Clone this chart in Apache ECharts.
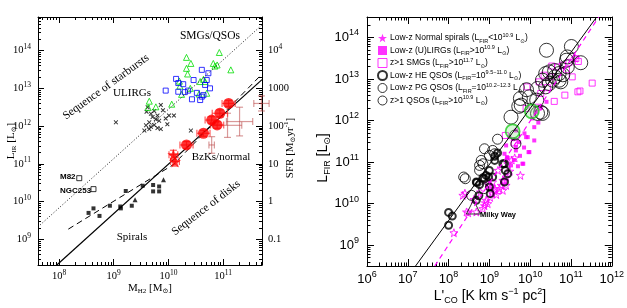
<!DOCTYPE html>
<html><head><meta charset="utf-8">
<script src="https://cdn.jsdelivr.net/npm/echarts@6/dist/echarts.min.js"></script>
<style>html,body{margin:0;padding:0;background:#fff}#c{width:627px;height:308px}</style>
</head><body><div id="c"></div>
<script>
// ===== values are log10 of the plotted quantities =====
// ---- left panel: L_IR vs M_H2 ----
const leftTickMH2 = [8, 9, 10, 11];
const leftTickLIR = [9, 10, 11, 12, 13, 14];
const sfrTickLabels = ['0.1', '1', '10', '100', '1000', '10^4'];
const ulirgCrosses = [[9.04,12.10],[9.62,12.50],[9.86,12.56],[9.60,12.38],[9.68,12.33],[9.74,12.40],[9.80,12.28],[9.71,12.24],[9.77,12.18],[9.83,12.14],[9.65,12.10],[9.59,12.02],[9.68,11.98],[9.74,12.03],[9.80,11.95],[9.86,11.92],[9.65,11.92],[9.56,11.88],[9.95,12.20],[10.01,12.28],[10.10,12.28],[9.98,12.05],[9.90,12.42],[10.41,11.88]];
const smgTriangles = [[10.33,13.82],[10.41,13.66],[10.33,13.53],[10.35,13.38],[10.20,13.19],[10.21,13.06],[10.24,12.84],[10.40,13.00],[10.58,13.18],[10.67,13.18],[10.70,12.87],[10.82,13.66],[10.85,13.59],[10.89,13.62],[10.93,13.95],[11.14,13.49],[9.65,12.66],[9.63,12.49],[9.77,12.51],[10.06,12.58],[10.56,12.85],[10.64,13.24]];
const qsoSquares = [[10.61,13.49],[10.73,13.40],[10.46,13.22],[10.14,13.25],[9.95,12.94],[10.18,12.91],[10.36,12.94],[10.52,12.88],[10.64,12.82],[10.76,13.00],[10.43,12.71],[10.58,12.69],[10.61,12.78],[10.27,13.11],[10.18,13.14],[10.67,13.09],[10.30,12.90],[10.70,13.22]];
const nearbyStarbursts = [[8.37,10.62],[8.63,10.33]]; // M82, NGC253
const spiralSquares = [[8.54,9.70],[8.63,9.82],[8.74,9.62],[8.93,9.89],[9.12,9.87],[9.13,9.82],[9.22,10.28],[9.33,9.89],[9.53,10.42],[9.72,10.44],[9.72,10.27],[9.83,10.40],[9.83,10.27]];
const spiralTriangles = [[9.39,10.05],[9.91,10.58]];
// [logM, logL, errM, errL]
const bzkCircles = [[11.10,12.60,0.12,0.08],[10.94,12.34,0.14,0.09],[10.79,12.16,0.12,0.09],[10.89,12.03,0.12,0.09],[10.64,11.81,0.12,0.08],[10.33,11.50,0.12,0.09]];
const bzkStars = [[10.09,11.24,0.08,0.12],[10.12,11.06,0.08,0.12]];
const faintBzk = [[11.08,12.02,0.26,0.32],[11.30,12.12,0.24,0.38],[10.79,11.50,0.05,0.22],[11.70,12.60,0.14,0.2]];
const lineDisks = [[7.96,8.32],[11.71,13.23]];
const lineDisksFit = [[8.17,9.27],[10.09,10.98],[11.71,13.38]];
const lineStarbursts = [[7.616,9.33],[11.71,14.68]];

// ---- right panel: L_FIR vs L'_CO ----
const rightTickLCO = [6, 7, 8, 9, 10, 11, 12];
const rightTickLFIR = [9, 10, 11, 12, 13, 14];
const normalSpirals = [[8.13,9.30],[8.35,10.20],[8.44,9.80],[8.48,9.78],[8.68,9.80],[8.84,9.88],[8.88,9.95],[8.92,10.08],[8.96,10.00],[8.96,10.48],[9.00,10.44],[9.05,10.40],[9.13,10.36],[9.17,10.22],[9.25,10.36],[9.13,10.30],[9.21,10.80],[9.33,10.56],[9.37,10.56],[9.41,10.64],[9.45,10.96],[9.76,10.68],[9.08,10.52],[9.29,10.44],[9.33,10.32],[9.41,10.44],[9.08,10.24],[8.62,10.10],[8.78,10.28],[8.90,10.02],[9.02,10.15],[8.40,10.25],[9.55,11.05],[9.62,11.10],[9.50,10.78],[11.10,13.50]];
const lowzULIRGs = [[9.86,11.69],[9.94,11.60],[9.73,11.48],[9.65,11.28],[9.98,11.24],[9.81,10.96],[9.53,10.92],[10.10,11.84],[10.10,11.52],[9.49,11.60],[9.65,11.76],[9.37,11.20],[9.41,11.40],[9.90,11.60],[9.65,11.36],[9.96,11.24],[9.45,11.10],[9.60,11.05],[9.75,11.15],[9.43,11.12],[9.83,10.96],[9.58,11.55],[9.85,11.35],[9.70,10.90],[10.20,11.95],[10.26,12.30],[10.40,12.45],[10.15,12.20],[10.05,12.05]];
const highzSMGs = [[9.92,12.81],[10.53,13.31],[10.67,13.29],[10.79,13.33],[10.89,13.22],[11.12,13.49],[11.18,13.42],[11.17,12.69],[10.85,12.61],[10.59,12.46],[11.03,13.05],[10.51,13.05],[10.34,13.09],[10.26,12.65],[11.22,12.71],[11.52,12.90],[10.20,12.32],[9.90,12.29],[9.39,11.64],[9.61,11.46],[10.22,12.93],[10.42,12.79],[10.95,13.40]];
const heQSOs = [[8.00,9.79],[8.09,9.70],[8.00,9.48],[8.68,10.08],[8.69,10.51],[8.76,10.46],[8.84,10.62],[8.98,10.64],[9.02,10.24],[9.37,10.52],[9.37,10.96],[9.39,10.80],[9.13,11.04],[9.00,10.80],[8.74,10.19],[8.88,10.60],[8.68,10.52],[9.13,11.14],[9.08,10.64],[9.33,10.96],[9.45,10.72],[9.00,10.40],[8.92,10.68],[9.20,11.22]];
const pgQSOs = [[8.37,10.64],[8.41,10.60],[8.76,10.92],[8.84,10.96],[8.56,10.20],[8.86,10.36],[9.00,11.16],[9.65,11.44],[9.08,11.28],[9.13,11.20],[8.88,11.32],[8.80,11.04],[8.76,10.80],[9.20,11.55],[9.62,11.65]];
const highzQSOs = [[10.40,13.69],[11.01,13.78],[11.24,13.39],[10.89,13.45],[10.91,13.29],[10.47,13.17],[10.75,12.93],[10.55,12.97],[10.38,12.81],[10.18,12.77],[9.91,12.74],[9.76,12.53],[9.72,12.34],[9.53,12.08],[10.30,12.17],[10.18,12.17],[10.16,12.49],[10.61,13.05],[10.71,13.13],[10.91,13.53],[10.30,12.97],[10.47,12.89],[9.98,12.57],[9.78,12.37],[10.26,12.20],[10.38,13.13],[10.71,12.97],[10.60,13.20],[10.80,13.10]];
const greenQSOs = [[10.04,12.22],[9.57,11.74]];
const milkyWay = [[8.61,9.92]];
const lineAll = [[7.19,8.5],[11.63,14.49]];
const lineLowz = [[7.66,8.5],[11.68,14.49]];

// ===== styling / helpers =====
const SERIF = "'Liberation Serif','DejaVu Serif',serif";
const SANS = "'Liberation Sans','DejaVu Sans',sans-serif";
const MAG = '#ff00ff';
const xPath = 'path://M0,1.5L1.5,0L5,3.5L8.5,0L10,1.5L6.5,5L10,8.5L8.5,10L5,6.5L1.5,10L0,8.5L3.5,5Z';
const starPath = 'path://M0,-10L2.35,-3.24L9.51,-3.09L3.8,1.24L5.88,8.09L0,4L-5.88,8.09L-3.8,1.24L-9.51,-3.09L-2.35,-3.24Z';
const NONE = 'rgba(0,0,0,0)';

function minorList(min, max) {
  const a = [];
  for (let n = Math.floor(min); n <= Math.ceil(max); n++)
    for (let k = 2; k <= 9; k++) { const v = n + Math.log10(k); if (v > min && v < max) a.push(v); }
  return a;
}
function axisSet(g, min, max, majors, posMain, posOpp, mainLabel, oppLabel, majLen, minLen) {
  const mins = minorList(min, max);
  const base = {type:'value', gridIndex:g, min:min, max:max, splitLine:{show:false}, silent:true};
  const line = {show:true, onZero:false, lineStyle:{color:'#000', width:1}};
  const ts = {color:'#000', width:1};
  return [
    Object.assign({}, base, {position:posMain, axisLine:line, axisTick:{show:true, inside:true, length:majLen, customValues:majors, lineStyle:ts}, axisLabel:mainLabel}),
    Object.assign({}, base, {position:posMain, axisLine:{show:false}, axisTick:{show:true, inside:true, length:minLen, customValues:mins, lineStyle:ts}, axisLabel:{show:false}}),
    Object.assign({}, base, {position:posOpp, axisLine:line, axisTick:{show:true, inside:true, length:majLen, customValues:majors, lineStyle:ts}, axisLabel:oppLabel || {show:false}}),
    Object.assign({}, base, {position:posOpp, axisLine:{show:false}, axisTick:{show:true, inside:true, length:minLen, customValues:mins, lineStyle:ts}, axisLabel:{show:false}})
  ];
}
const richSerif = {
  b:{fontFamily:SERIF, fontSize:10.5, lineHeight:15, color:'#000'},
  s:{fontFamily:SERIF, fontSize:7.5, lineHeight:8, verticalAlign:'top', color:'#000'}
};
const richSans = {
  b:{fontFamily:SANS, fontSize:13, lineHeight:18, color:'#000'},
  s:{fontFamily:SANS, fontSize:9, lineHeight:9, verticalAlign:'top', color:'#000'}
};
const powLabel = v => '{b|10}{s|' + v + '}';
const sfrLabel = v => {
  const t = sfrTickLabels[leftTickLIR.indexOf(v)];
  const p = t.split('^');
  return p.length > 1 ? '{b|' + p[0] + '}{s|' + p[1] + '}' : '{b|' + t + '}';
};

const xAxes = [].concat(
  axisSet(0, 7.616, 11.71, leftTickMH2, 'bottom', 'top',
    {show:true, customValues:leftTickMH2, margin:4, formatter:powLabel, rich:richSerif}, null, 6, 3),
  axisSet(1, 6, 12, rightTickLCO, 'bottom', 'top',
    {show:true, customValues:rightTickLCO, margin:4, formatter:powLabel, rich:richSans}, null, 7, 3.5)
);
const yAxes = [].concat(
  axisSet(0, 8.32, 14.89, leftTickLIR, 'left', 'right',
    {show:true, customValues:leftTickLIR, margin:7, formatter:powLabel, rich:richSerif},
    {show:true, customValues:leftTickLIR, margin:6, formatter:sfrLabel, rich:richSerif}, 6, 3),
  axisSet(1, 8.5, 14.49, rightTickLFIR, 'left', 'right',
    {show:true, customValues:rightTickLFIR, margin:8, formatter:powLabel, rich:richSans}, null, 7, 3.5)
);

function errRender(color) {
  return function (params, api) {
    const x = api.value(0), y = api.value(1), ex = api.value(2), ey = api.value(3);
    const l = api.coord([x - ex, y]), r = api.coord([x + ex, y]);
    const t = api.coord([x, y + ey]), b = api.coord([x, y - ey]);
    const c = 3.5;
    const st = {stroke:color, lineWidth:1.2, fill:null};
    const ln = (x1, y1, x2, y2) => ({type:'line', shape:{x1, y1, x2, y2}, style:st});
    return {type:'group', children:[
      ln(l[0], l[1], r[0], r[1]), ln(b[0], b[1], t[0], t[1]),
      ln(l[0], l[1] - c, l[0], l[1] + c), ln(r[0], r[1] - c, r[0], r[1] + c),
      ln(t[0] - c, t[1], t[0] + c, t[1]), ln(b[0] - c, b[1], b[0] + c, b[1])
    ]};
  };
}
function sc(name, g, data, symbol, size, itemStyle, z) {
  return {name, type:'scatter', xAxisIndex:g*4, yAxisIndex:g*4, data, symbol, symbolSize:size,
    itemStyle, silent:true, z:z || 2, animation:false};
}
function ln(g, data, color, type, width) {
  return {type:'line', xAxisIndex:g*4, yAxisIndex:g*4, data, symbol:'none', silent:true, animation:false,
    lineStyle:{color, type, width}, z:3};
}

const series = [
  ln(0, lineStarbursts, '#000', [1, 2], 0.9),
  ln(0, lineDisksFit, '#000', [6, 4], 1),
  ln(0, lineDisks, '#000', 'solid', 1.2),
  sc('crosses', 0, ulirgCrosses, xPath, 4.5, {color:'#000'}),
  sc('smg', 0, smgTriangles, 'triangle', 6, {color:NONE, borderColor:'#00dd00', borderWidth:1}),
  sc('qso', 0, qsoSquares, 'rect', 5, {color:NONE, borderColor:'#0000ff', borderWidth:1}),
  sc('sb', 0, nearbyStarbursts, 'rect', 5, {color:NONE, borderColor:'#000', borderWidth:1}),
  sc('spsq', 0, spiralSquares, 'rect', 4, {color:'#000'}),
  sc('sptr', 0, spiralTriangles, 'triangle', 5, {color:'#000'}),
  {type:'custom', xAxisIndex:0, yAxisIndex:0, data:faintBzk, encode:{x:0, y:1}, renderItem:errRender('rgba(185,70,70,0.55)'), silent:true, animation:false, z:1},
  {type:'custom', xAxisIndex:0, yAxisIndex:0, data:bzkCircles.concat(bzkStars), encode:{x:0, y:1}, renderItem:errRender('rgba(255,40,40,0.75)'), silent:true, animation:false, z:4},
  sc('bzk', 0, bzkCircles, 'circle', 11, {color:'#ff0000'}, 5),
  sc('bzks', 0, bzkStars, starPath, 12, {color:'#ff0000'}, 5),

  ln(1, lineLowz, MAG, [5, 4], 1.2),
  ln(1, lineAll, '#000', 'solid', 1),
  sc('Low-z Normal spirals', 1, normalSpirals, starPath, 8, {color:NONE, borderColor:MAG, borderWidth:1}),
  sc('Low-z (U)LIRGs', 1, lowzULIRGs, 'rect', 4, {color:MAG}),
  sc('z>1 SMGs', 1, highzSMGs, 'rect', 6, {color:NONE, borderColor:MAG, borderWidth:1}),
  sc('Low-z HE QSOs', 1, heQSOs, 'circle', 7, {color:NONE, borderColor:'#000', borderWidth:2}),
  sc('Low-z PG QSOs', 1, pgQSOs, 'circle', 10, {color:NONE, borderColor:'#000', borderWidth:1}),
  sc('z>1 QSOs', 1, highzQSOs, 'circle', 14, {color:NONE, borderColor:'#000', borderWidth:1}),
  sc('green', 1, greenQSOs, 'circle', 14, {color:'rgba(120,230,120,0.35)', borderColor:'#22cc22', borderWidth:1.8}),
  sc('mw', 1, milkyWay, 'triangle', 14, {color:NONE, borderColor:'#000', borderWidth:1})
];

const legendRich = {
  'Low-z Normal spirals': '{t|Low-z Normal spirals (L}{sb|FIR}{t|<10}{sp|10.9}{t| L}{sb|⊙}{t|)}',
  'Low-z (U)LIRGs': '{t|Low-z (U)LIRGs (L}{sb|FIR}{t|>10}{sp|10.9}{t| L}{sb|⊙}{t|)}',
  'z>1 SMGs': '{t|z>1 SMGs (L}{sb|FIR}{t|>10}{sp|11.7}{t| L}{sb|⊙}{t|)}',
  'Low-z HE QSOs': '{t|Low-z HE QSOs (L}{sb|FIR}{t|=10}{sp|9.5−11.0}{t| L}{sb|⊙}{t|)}',
  'Low-z PG QSOs': '{t|Low-z PG QSOs (L}{sb|FIR}{t|=10}{sp|10.2−12.3}{t| L}{sb|⊙}{t|)}',
  'z>1 QSOs': '{t|z>1 QSOs (L}{sb|FIR}{t|>10}{sp|10.9}{t| L}{sb|⊙}{t|)}'
};

const tRich = {
  n:{fontFamily:SERIF, fontSize:11, lineHeight:14, color:'#000'},
  sb:{fontFamily:SERIF, fontSize:7, lineHeight:7, verticalAlign:'bottom', color:'#000'},
  sp:{fontFamily:SERIF, fontSize:7, lineHeight:7, verticalAlign:'top', color:'#000'},
  N:{fontFamily:SANS, fontSize:14, lineHeight:18, color:'#000'},
  SB:{fontFamily:SANS, fontSize:9, lineHeight:9, verticalAlign:'bottom', color:'#000'},
  SP:{fontFamily:SANS, fontSize:9, lineHeight:9, verticalAlign:'top', color:'#000'}
};
function txt(text, x, y, opts) {
  opts = opts || {};
  return {type:'text', x, y, rotation:(opts.rot || 0) * Math.PI / 180, silent:true, z:10,
    style:{text, fill:'#000', font:opts.font || ('11px ' + SERIF), align:opts.align || 'center', verticalAlign:'middle', rich:tRich}};
}

const option = {
  animation:false,
  backgroundColor:'#fff',
  grid:[
    {left:38, top:17, width:224, height:248},
    {left:367, top:17, width:246, height:249}
  ],
  xAxis:xAxes,
  yAxis:yAxes,
  legend:{
    orient:'vertical', left:372, top:27, itemWidth:9, itemHeight:9, itemGap:0.5, selectedMode:false,
    data:[
      {name:'Low-z Normal spirals', icon:starPath, itemStyle:{color:MAG, borderColor:MAG, borderWidth:0}},
      {name:'Low-z (U)LIRGs', icon:'path://M3,3h4v4h-4z', itemStyle:{color:MAG}},
      {name:'z>1 SMGs', icon:'rect', itemStyle:{color:NONE, borderColor:MAG, borderWidth:1}},
      {name:'Low-z HE QSOs', icon:'circle', itemStyle:{color:NONE, borderColor:'#000', borderWidth:2}},
      {name:'Low-z PG QSOs', icon:'circle', itemStyle:{color:NONE, borderColor:'#000', borderWidth:1}},
      {name:'z>1 QSOs', icon:'circle', itemStyle:{color:NONE, borderColor:'#000', borderWidth:1}}
    ],
    formatter:name => legendRich[name],
    textStyle:{fontFamily:SANS, fontSize:8.5, color:'#000', padding:[0,0,0,-2], rich:{
      t:{fontFamily:SANS, fontSize:8.5, lineHeight:12, color:'#000'},
      sb:{fontFamily:SANS, fontSize:5.5, lineHeight:6, verticalAlign:'bottom', color:'#000'},
      sp:{fontFamily:SANS, fontSize:5.5, lineHeight:6, verticalAlign:'top', color:'#000'}
    }}
  },
  graphic:[
    txt('SMGs/QSOs', 210, 36, {font:'11.5px ' + SERIF}),
    txt('Sequence of starbursts', 106, 87, {rot:36, font:'11.5px ' + SERIF}),
    txt('ULIRGs', 132, 93),
    txt('BzKs/normal', 221, 157),
    txt('Sequence of disks', 206, 208, {rot:37.5, font:'11.5px ' + SERIF}),
    txt('Spirals', 132, 237),
    txt('M82', 60, 177, {align:'left', font:'bold 8px ' + SANS}),
    txt('NGC253', 60, 191, {align:'left', font:'bold 8px ' + SANS}),
    txt('{n|L}{sb|IR}{n| [L}{sb|⊙}{n|]}', 11, 141, {rot:90}),
    txt('{n|M}{sb|H2}{n| [M}{sb|⊙}{n|]}', 150, 288),
    txt('{n|SFR [M}{sb|⊙}{n|yr}{sp|-1}{n|]}', 290, 148, {rot:90}),
    txt('{N|L}{SB|FIR}{N| [L}{SB|⊙}{N|]}', 323, 158, {rot:90}),
    txt("{N|L'}{SB|CO}{N| [K km s}{SP|−1}{N| pc}{SP|2}{N|]}", 490, 296),
    txt('Milky Way', 480, 215, {align:'left', font:'bold 7.5px ' + SANS})
  ],
  series
};
echarts.init(document.getElementById('c'), null, {renderer:'canvas'}).setOption(option);
</script></body></html>
